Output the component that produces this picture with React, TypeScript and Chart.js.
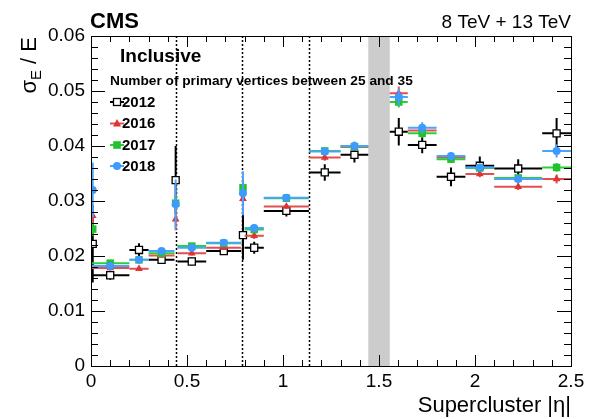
import React, { useEffect, useRef } from 'react';
import { Chart, registerables } from 'chart.js';
Chart.register(...registerables);

const FONT = '"Liberation Sans", Arial, Helvetica, sans-serif';

// bin edges in |eta|
const binLow = [0.004, 0.0, 0.2, 0.3, 0.435, 0.45, 0.6, 0.783, 0.8, 0.9, 1.135, 1.3, 1.556, 1.65, 1.8, 1.95, 2.1, 2.35];
const binHigh = [0.014, 0.2, 0.3, 0.435, 0.447, 0.6, 0.783, 0.8, 0.9, 1.135, 1.3, 1.4442, 1.65, 1.8, 1.95, 2.1, 2.35, 2.5];

const years = ['2012', '2016', '2017', '2018'];

const v2012 = [0.0222, 0.0165, 0.0211, 0.0193, 0.0338, 0.0190, 0.0209, 0.0238, 0.0215, 0.0282, 0.0352, 0.0384, 0.0426, 0.0402, 0.0344, 0.0364, 0.0359, 0.0423];
const e2012 = [0.0070, 0.0008, 0.0012, 0.0006, 0.0062, 0.0007, 0.0007, 0.0045, 0.0011, 0.0010, 0.0015, 0.0014, 0.0025, 0.0015, 0.0017, 0.0017, 0.0017, 0.0028];
const v2016 = [0.0273, 0.0178, 0.0177, 0.0201, 0.0267, 0.0205, 0.0215, 0.0304, 0.0237, 0.0290, 0.0379, 0.0398, 0.0496, 0.0428, 0.0379, 0.0349, 0.0326, 0.0340];
const e2016 = [0.0015, 0.0004, 0.0004, 0.0004, 0.0020, 0.0004, 0.0004, 0.0015, 0.0006, 0.0004, 0.0006, 0.0006, 0.0012, 0.0008, 0.0006, 0.0006, 0.0006, 0.0008];
const v2017 = [0.0249, 0.0187, 0.0193, 0.0205, 0.0296, 0.0218, 0.0223, 0.0324, 0.0248, 0.0305, 0.0391, 0.0399, 0.0480, 0.0423, 0.0376, 0.0360, 0.0342, 0.0361];
const e2017 = [0.0012, 0.0004, 0.0004, 0.0004, 0.0015, 0.0004, 0.0004, 0.0012, 0.0006, 0.0004, 0.0006, 0.0006, 0.0010, 0.0008, 0.0006, 0.0006, 0.0006, 0.0008];
const v2018 = [0.0320, 0.0182, 0.0193, 0.0209, 0.0294, 0.0215, 0.0224, 0.0314, 0.0251, 0.0306, 0.0390, 0.0400, 0.0489, 0.0433, 0.0382, 0.0361, 0.0340, 0.0391];
const e2018 = [0.0050, 0.0005, 0.0005, 0.0005, 0.0045, 0.0004, 0.0004, 0.0040, 0.0007, 0.0004, 0.0007, 0.0008, 0.0015, 0.0010, 0.0007, 0.0006, 0.0006, 0.0012];

const moduleBoundaries = [0.441, 0.788, 1.135];
const gapLow = 1.4442;
const gapHigh = 1.556;

const xTicks = [0, 0.5, 1, 1.5, 2, 2.5];
const yTicks = [0, 0.01, 0.02, 0.03, 0.04, 0.05, 0.06];

const seriesValues = [v2012, v2016, v2017, v2018];
const seriesErrors = [e2012, e2016, e2017, e2018];
const colors = ['#000000', '#e03434', '#22c22e', '#3d9bff'];
const barColors = ['#000000', '#e05050', '#2ccf3a', '#4aa3ff'];
const styles = ['openrect', 'triangle', 'rect', 'circle'];

function drawMarker(ctx: CanvasRenderingContext2D, style: string, x: number, y: number, color: string) {
  ctx.save();
  ctx.fillStyle = color;
  ctx.strokeStyle = color;
  if (style === 'openrect') {
    ctx.fillStyle = '#fff';
    ctx.lineWidth = 1.3;
    ctx.fillRect(x - 3.5, y - 3.5, 7, 7);
    ctx.strokeRect(x - 3.5, y - 3.5, 7, 7);
  } else if (style === 'rect') {
    ctx.fillRect(x - 3.8, y - 3.8, 7.6, 7.6);
  } else if (style === 'circle') {
    ctx.beginPath();
    ctx.arc(x, y, 4, 0, Math.PI * 2);
    ctx.fill();
  } else if (style === 'triangle') {
    ctx.beginPath();
    ctx.moveTo(x, y - 4.5);
    ctx.lineTo(x + 4, y + 3);
    ctx.lineTo(x - 4, y + 3);
    ctx.closePath();
    ctx.fill();
  }
  ctx.restore();
}

const decorPlugin = {
  id: 'decor',
  beforeDatasetsDraw(chart: any) {
    const { ctx, chartArea: a, scales } = chart;
    const xs = scales.x;
    ctx.save();
    // crack gap band
    ctx.fillStyle = '#cccccc';
    const g0 = xs.getPixelForValue(gapLow);
    const g1 = xs.getPixelForValue(gapHigh);
    ctx.fillRect(g0, a.top, g1 - g0, a.bottom - a.top);
    // module boundaries
    ctx.strokeStyle = '#000';
    ctx.lineWidth = 1.5;
    ctx.setLineDash([2, 2]);
    for (const b of moduleBoundaries) {
      const px = Math.round(xs.getPixelForValue(b)) + 0.5;
      ctx.beginPath();
      ctx.moveTo(px, a.top);
      ctx.lineTo(px, a.bottom);
      ctx.stroke();
    }
    ctx.setLineDash([]);
    ctx.restore();
  },
  beforeDatasetDraw(chart: any, args: any) {
    const i = args.index;
    const { ctx, scales } = chart;
    const xs = scales.x;
    const ys = scales.y;
    const vals = seriesValues[i];
    const errs = seriesErrors[i];
    ctx.save();
    ctx.strokeStyle = barColors[i];
    ctx.lineWidth = 2;
    for (let k = 0; k < vals.length; k++) {
      const cx = xs.getPixelForValue((binLow[k] + binHigh[k]) / 2);
      const py = ys.getPixelForValue(vals[k]);
      ctx.beginPath();
      ctx.moveTo(xs.getPixelForValue(binLow[k]), py);
      ctx.lineTo(xs.getPixelForValue(binHigh[k]), py);
      ctx.moveTo(cx, ys.getPixelForValue(vals[k] - errs[k]));
      ctx.lineTo(cx, ys.getPixelForValue(vals[k] + errs[k]));
      ctx.stroke();
    }
    ctx.restore();
  },
  afterDraw(chart: any) {
    const { ctx, chartArea: a, scales } = chart;
    const xs = scales.x;
    const ys = scales.y;
    ctx.save();
    // frame
    ctx.strokeStyle = '#000';
    ctx.lineWidth = 1;
    ctx.strokeRect(Math.round(a.left) + 0.5, Math.round(a.top) + 0.5, Math.round(a.right - a.left), Math.round(a.bottom - a.top));
    // x ticks
    ctx.beginPath();
    for (let k = 0; k <= 50; k++) {
      const v = k * 0.05;
      if (k % 2 === 1) continue;
      const major = k % 10 === 0;
      const len = major ? 11 : 6;
      const px = Math.round(xs.getPixelForValue(v)) + 0.5;
      ctx.moveTo(px, a.bottom);
      ctx.lineTo(px, a.bottom - len);
      ctx.moveTo(px, a.top);
      ctx.lineTo(px, a.top + len);
    }
    // y ticks
    for (let k = 0; k <= 30; k++) {
      const v = k * 0.002;
      const major = k % 5 === 0;
      const len = major ? 14 : 7;
      const py = Math.round(ys.getPixelForValue(v)) + 0.5;
      ctx.moveTo(a.left, py);
      ctx.lineTo(a.left + len, py);
      ctx.moveTo(a.right, py);
      ctx.lineTo(a.right - len, py);
    }
    ctx.stroke();

    ctx.fillStyle = '#000';
    // CMS label
    ctx.textBaseline = 'alphabetic';
    ctx.textAlign = 'left';
    ctx.font = `bold 22px ${FONT}`;
    ctx.fillText('CMS', a.left - 1, 28);
    ctx.textAlign = 'right';
    ctx.font = `19px ${FONT}`;
    ctx.fillText('8 TeV + 13 TeV', a.right, 28);

    // x axis title
    ctx.font = `22px ${FONT}`;
    ctx.fillText('Supercluster |\u03b7|', a.right, 412);

    // y axis title (rotated)
    ctx.save();
    ctx.translate(36, a.top + 1);
    ctx.rotate(-Math.PI / 2);
    ctx.textAlign = 'left';
    const big = `22px ${FONT}`;
    const small = `15px ${FONT}`;
    ctx.font = big;
    const w1 = ctx.measureText('\u03c3').width;
    const w3 = ctx.measureText(' / E').width;
    ctx.font = small;
    const w2 = ctx.measureText('E').width;
    let x0 = -(w1 + w2 + w3);
    ctx.font = big;
    ctx.fillText('\u03c3', x0, 0);
    ctx.font = small;
    ctx.fillText('E', x0 + w1, 5);
    ctx.font = big;
    ctx.fillText(' / E', x0 + w1 + w2, 0);
    ctx.restore();

    // header inside plot
    ctx.textAlign = 'left';
    ctx.textBaseline = 'middle';
    ctx.font = `bold 19px ${FONT}`;
    ctx.fillText('Inclusive', 120, 57);
    ctx.font = `bold 13.7px ${FONT}`;
    ctx.fillText('Number of primary vertices between 25 and 35', 110, 81);

    // legend
    const ly = [102, 123.5, 145, 166];
    for (let i = 0; i < years.length; i++) {
      ctx.strokeStyle = barColors[i];
      ctx.lineWidth = 2;
      ctx.beginPath();
      ctx.moveTo(110, ly[i]);
      ctx.lineTo(124, ly[i]);
      ctx.stroke();
      drawMarker(ctx, styles[i], 117, ly[i], colors[i]);
      ctx.fillStyle = '#000';
      ctx.font = `bold 15px ${FONT}`;
      ctx.fillText(years[i], 122, ly[i] + 0.5);
    }
    ctx.restore();
  },
};

function makeDatasets() {
  return years.map((y, i) => ({
    label: y,
    data: seriesValues[i].map((v, k) => ({ x: (binLow[k] + binHigh[k]) / 2, y: v })),
    pointStyle: i === 3 ? 'circle' : i === 1 ? 'triangle' : 'rect',
    pointRadius: i === 0 ? 5 : i === 2 ? 5.3 : i === 1 ? 4.5 : 4,
    pointBackgroundColor: i === 0 ? '#ffffff' : colors[i],
    pointBorderColor: colors[i],
    pointBorderWidth: i === 0 ? 1.3 : 0,
    showLine: false,
    order: 4 - i,
  }));
}

export default function App() {
  const ref = useRef<HTMLCanvasElement | null>(null);
  useEffect(() => {
    if (!ref.current) return;
    const chart = new Chart(ref.current, {
      type: 'scatter',
      data: { datasets: makeDatasets() as any },
      options: {
        responsive: false,
        animation: false,
        devicePixelRatio: 1,
        layout: { padding: { top: 36, right: 23, left: 0, bottom: 0 } },
        plugins: { legend: { display: false }, tooltip: { enabled: false } },
        scales: {
          x: {
            type: 'linear',
            min: 0,
            max: 2.5,
            grid: { display: false, drawTicks: false },
            border: { display: false },
            afterBuildTicks: (s: any) => { s.ticks = xTicks.map((v) => ({ value: v })); },
            afterFit: (s: any) => { s.height = 53; },
            ticks: {
              color: '#000',
              font: { family: FONT, size: 19 },
              padding: 4,
              maxRotation: 0,
              autoSkip: false,
              callback: (v: any) => String(parseFloat(Number(v).toFixed(2))),
            },
          },
          y: {
            type: 'linear',
            min: 0,
            max: 0.06,
            grid: { display: false, drawTicks: false },
            border: { display: false },
            afterBuildTicks: (s: any) => { s.ticks = yTicks.map((v) => ({ value: v })); },
            afterFit: (s: any) => { s.width = 91; },
            ticks: {
              color: '#000',
              font: { family: FONT, size: 19 },
              padding: 6,
              autoSkip: false,
              callback: (v: any) => (Number(v) === 0 ? '0' : Number(v).toFixed(2)),
            },
          },
        },
      },
      plugins: [decorPlugin],
    });
    return () => chart.destroy();
  }, []);
  return (
    <div style={{ position: 'fixed', left: 0, top: 0, width: 594, height: 419, background: '#fff' }}>
      <canvas ref={ref} width={594} height={419} style={{ width: 594, height: 419 }} />
    </div>
  );
}
